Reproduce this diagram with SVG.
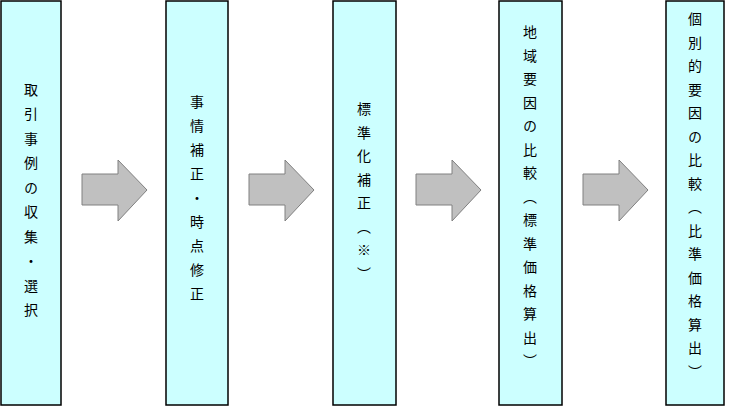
<svg xmlns="http://www.w3.org/2000/svg" width="729" height="407" viewBox="0 0 729 407">
<style>
.box{fill:#CCFFFF;stroke:#000;stroke-width:1.5}
.t{font-family:"Noto Sans CJK JP","Noto Sans CJK SC",sans-serif;font-size:14px;fill:#000;writing-mode:vertical-rl;text-anchor:middle}
.ar{fill:#C0C0C0;stroke:#808080;stroke-width:1}
</style>
<rect width="729" height="407" fill="#fff"/>
<g id="n1"><rect class="box" x="1" y="1" width="60" height="404"/><text class="t" x="31" y="205" style="letter-spacing:10.5px">取引事例の収集・選択</text></g>
<g id="n2"><rect class="box" x="166" y="1" width="62" height="404"/><text class="t" x="197" y="203" style="letter-spacing:10px">事情補正・時点修正</text></g>
<g id="n3"><rect class="box" x="333" y="1" width="63" height="404"/><text class="t" x="364" y="196" style="letter-spacing:9.5px">標準化補正（※）</text></g>
<g id="n4"><rect class="box" x="499" y="1" width="63" height="404"/><text class="t" x="530" y="201" style="letter-spacing:9.5px">地域要因の比較（標準価格算出）</text></g>
<g id="n5"><rect class="box" x="666" y="1" width="58" height="404"/><text class="t" x="695" y="200" style="letter-spacing:9.5px">個別的要因の比較（比準価格算出）</text></g>
<g id="connectors">
<path class="ar" d="M82,174H118V160L147,190L118,221V205H82Z"/>
<path class="ar" d="M249,174H285V160L314,190L285,221V205H249Z"/>
<path class="ar" d="M416,174H452V160L481,190L452,221V205H416Z"/>
<path class="ar" d="M583,174H619V160L648,190L619,221V205H583Z"/>
</g>
</svg>
